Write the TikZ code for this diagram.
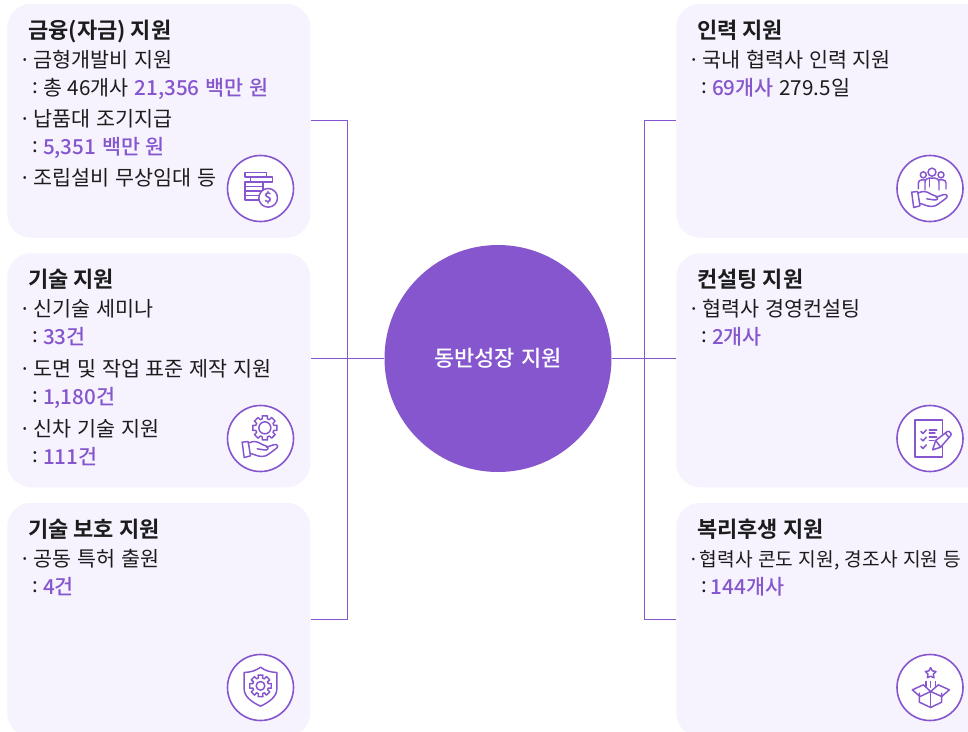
\documentclass[tikz,border=0pt]{standalone}
\usepackage{fontspec}
\setmainfont{Noto Sans CJK KR}[BoldFont={Noto Sans CJK KR Medium},WordSpace=1.25]
\newfontfamily\headfont{Noto Sans CJK KR Bold}
\usepackage{tikz}
\definecolor{accent}{HTML}{8556cd}
\definecolor{cardbg}{HTML}{f6f2fe}
\definecolor{ink}{HTML}{1c1c1c}
\newcommand{\dotmark}{·\hspace{2pt}}
\newcommand{\colmark}{\hspace*{10pt}\raisebox{1pt}{:}\hspace{3.5pt}}
\newcommand{\val}[1]{\textcolor{accent}{\textbf{#1}}}
% gear outline: centre x, centre y, root radius, tip radius, hole radius
\newcommand{\gearshape}[5]{%
    \begin{scope}[shift={(#1,#2)}]
        \foreach \a in {0,45,...,315} {
            \draw (\a-12:#4) -- (\a+12:#4) -- (\a+16:#3) -- (\a+29:#3) -- (\a+33:#4);
        }
        \draw (0,0) circle[radius=#5];
    \end{scope}}
\newcommand{\handshape}{%
    \draw (-55,11) -- (-37,9) -- (-30,52) -- (-49,57) -- cycle;
    \draw (-37,14) .. controls (-20,6) and (-10,8) .. (5,18) -- (18,23) .. controls (28,30) and (20,37) .. (10,34) -- (-10,31);
    \draw (18,26) -- (42,18) .. controls (52,16) and (55,26) .. (46,31) .. controls (30,42) and (20,54) .. (5,54) .. controls (-10,54) and (-20,46) .. (-31,45);}
\begin{document}
\begin{tikzpicture}[x=.75pt,y=-.75pt,font=\fontsize{15.5pt}{18pt}\selectfont,text=ink]
    \tikzstyle{card}=[fill=cardbg, rounded corners=18pt, minimum width=227.25pt, minimum height=175.5pt, anchor=north west, inner sep=0pt]
    \tikzstyle{widecard}=[card, minimum width=240pt]
    \tikzstyle{link}=[accent, line width=.75pt]
    \tikzstyle{hubdisc}=[circle, fill=accent, minimum size=170.25pt, inner sep=0pt, text=white, font=\fontsize{16.5pt}{18pt}\selectfont\bfseries]
    \tikzstyle{head}=[anchor=base west, inner sep=0pt, yshift=-.75pt, font=\fontsize{16.5pt}{18pt}\selectfont\headfont]
    \tikzstyle{entry}=[anchor=base west, inner sep=0pt, yshift=-.75pt]
    \tikzstyle{ring}=[circle, draw=accent, fill=white, line width=1.2pt, minimum size=49.5pt, inner sep=0pt]
    \tikzstyle{iconline}=[accent, line width=1.1pt, line join=round, line cap=round]
    \useasboundingbox (0,0) rectangle (968,732);
    % cards
    \node[card] (finance) at (7,3.5) {};
    \node[card] (tech) at (7,253) {};
    \node[card] (protect) at (7,502.5) {};
    \node[widecard] (staff) at (676,3.5) {};
    \node[widecard] (consult) at (676,253) {};
    \node[widecard] (welfare) at (676,502.5) {};
    \node[hubdisc] (hub) at (498,358.5) {동반성장 지원};
    \coordinate (busleft) at (347,358.5);
    \coordinate (busright) at (644,358.5);
    % connectors
    \draw[link] (finance.east) -| (busleft);
    \draw[link] (protect.east) -| (busleft);
    \draw[link] (hub.west) -- (hub.west -| tech.east);
    \draw[link] (staff.west) -| (busright);
    \draw[link] (welfare.west) -| (busright);
    \draw[link] (hub.east) -- (hub.east -| consult.west);
    % left texts
    \node[head] (financehead) at (28,37) {금융(자금) 지원};
    \node[entry] (fina) at (19,66) {\dotmark 금형개발비 지원};
    \node[entry] (finb) at (19,94) {\colmark 총 46개사 \val{21,356 백만 원}};
    \node[entry] (finc) at (19,125) {\dotmark 납품대 조기지급};
    \node[entry] (find) at (19,153) {\colmark \val{5,351 백만 원}};
    \node[entry] (fine) at (19,184) {\dotmark 조립설비 무상임대 등};
    \node[head] (techhead) at (28,286) {기술 지원};
    \node[entry] (teca) at (19,315) {\dotmark 신기술 세미나};
    \node[entry] (tecb) at (19,343) {\colmark \val{33건}};
    \node[entry] (tecc) at (19,375) {\dotmark 도면 및 작업 표준 제작 지원};
    \node[entry] (tecd) at (19,403) {\colmark \val{1,180건}};
    \node[entry] (tece) at (19,435) {\dotmark 신차 기술 지원};
    \node[entry] (tecf) at (19,463) {\colmark \val{111건}};
    \node[head] (protecthead) at (28,536) {기술 보호 지원};
    \node[entry] (proa) at (19,565) {\dotmark 공동 특허 출원};
    \node[entry] (prob) at (19,593) {\colmark \val{4건}};
    % right texts
    \node[head] (staffhead) at (697,37) {인력 지원};
    \node[entry] (staa) at (688,66) {\dotmark 국내 협력사 인력 지원};
    \node[entry] (stab) at (688,94) {\colmark \val{69개사} 279.5일};
    \node[head] (consulthead) at (697,286) {컨설팅 지원};
    \node[entry] (cona) at (688,315) {\dotmark 협력사 경영컨설팅};
    \node[entry] (conb) at (688,343) {\colmark \val{2개사}};
    \node[head] (welfarehead) at (697,536) {복리후생 지원};
    \node[entry,font=\fontsize{14.4pt}{18pt}\selectfont] (wela) at (688,565) {·\hspace{.5pt}협력사 콘도 지원, 경조사 지원 등};
    \node[entry] (welb) at (688,593) {\hspace*{10pt}\raisebox{1pt}{:}\hspace{2.5pt}\val{144개사}};
    % icon rings
    \node[ring] (financering) at (260.5,188.5) {};
    \node[ring] (techring) at (260.5,438.5) {};
    \node[ring] (protectring) at (260.5,687.5) {};
    \node[ring] (staffring) at (930,188.5) {};
    \node[ring] (consultring) at (930,438.5) {};
    \node[ring] (welfarering) at (930,687.5) {};
    % coins
    \begin{scope}[shift={(financering.center)},x=.25pt,y=-.25pt,iconline]
        \draw (-46,-48) rectangle (18,-34);
        \draw (-30,-34) rectangle (36,-20);
        \draw (-46,-20) rectangle (8,34);
        \draw (-46,-6) -- (8,-6);
        \draw (-46,7) -- (8,7);
        \draw (-46,21) -- (8,21);
        \draw[fill=white] (23,28) circle[radius=28];
        \node[accent,inner sep=0pt,font=\fontsize{10pt}{10pt}\selectfont\headfont] (coinmark) at (23,28) {\$};
    \end{scope}
    % gear on hand
    \begin{scope}[shift={(techring.center)},x=.25pt,y=-.25pt,iconline]
        \gearshape{13}{-32}{28}{37}{18}
        \handshape
    \end{scope}
    % shield
    \begin{scope}[shift={(protectring.center)},x=.25pt,y=-.25pt,iconline]
        \draw (0,-61) .. controls (-14,-50) and (-30,-46) .. (-49,-45) -- (-49,5) .. controls (-49,28) and (-24,45) .. (0,56) .. controls (24,45) and (49,28) .. (49,5) -- (49,-45) .. controls (30,-46) and (14,-50) .. (0,-61) -- cycle;
        \gearshape{0}{-5}{24}{33}{13}
    \end{scope}
    % people on hand
    \begin{scope}[shift={(staffring.center)},x=.25pt,y=-.25pt,iconline]
        \draw (6,-49) circle[radius=12];
        \draw (-20,-41) circle[radius=9];
        \draw (33,-41) circle[radius=9];
        \draw (-15,4) -- (-15,-18) .. controls (-15,-28) and (-8,-31) .. (-3,-31) -- (15,-31) .. controls (20,-31) and (27,-28) .. (27,-18) -- (27,4);
        \draw (-35,1) -- (-35,-16) .. controls (-35,-22) and (-30,-26) .. (-25,-26) -- (-15,-26);
        \draw (27,-26) -- (38,-26) .. controls (44,-26) and (48,-22) .. (48,-16) -- (48,1);
        \draw (-2,-31) -- (-2,-5);
        \handshape
    \end{scope}
    % checklist and pen
    \begin{scope}[shift={(consultring.center)},x=.25pt,y=-.25pt,iconline]
        \draw (-45,-56) rectangle (38,56);
        \foreach \r in {-21,1,24} {
            \draw (-27,\r) -- (-21,\r+6) -- (-11,\r-5);
        }
        \draw (-2,-26) -- (20,-26);
        \draw (-2,-16) -- (15,-16);
        \draw (-2,-4) -- (20,-4);
        \draw (-2,6) -- (12,6);
        \draw[fill=white] (8,34) -- (17,6) -- (52,-21) .. controls (58,-24) and (67,-14) .. (62,-9) -- (32,26) -- cycle;
        \draw (17,6) -- (32,26);
        \draw (46,-16) -- (57,-3);
    \end{scope}
    % open box with star
    \begin{scope}[shift={(welfarering.center)},x=.25pt,y=-.25pt,iconline]
        \draw (2,-60) -- (7,-50) -- (18,-48) -- (10,-40) -- (12,-29) -- (2,-34) -- (-8,-29) -- (-6,-40) -- (-14,-48) -- (-3,-50) -- cycle;
        \draw (-12,-18) -- (-12,-3);
        \draw (2,-18) -- (2,-1);
        \draw (16,-18) -- (16,-3);
        \draw (-53,7) -- (-20,-8) -- (2,12) -- (-30,27) -- cycle;
        \draw (2,12) -- (25,-8) -- (58,7) -- (35,27) -- cycle;
        \draw (-32,17) -- (-32,44) -- (2,60) -- (35,44) -- (35,17);
        \draw (2,12) -- (2,60);
    \end{scope}
\end{tikzpicture}
\end{document}
